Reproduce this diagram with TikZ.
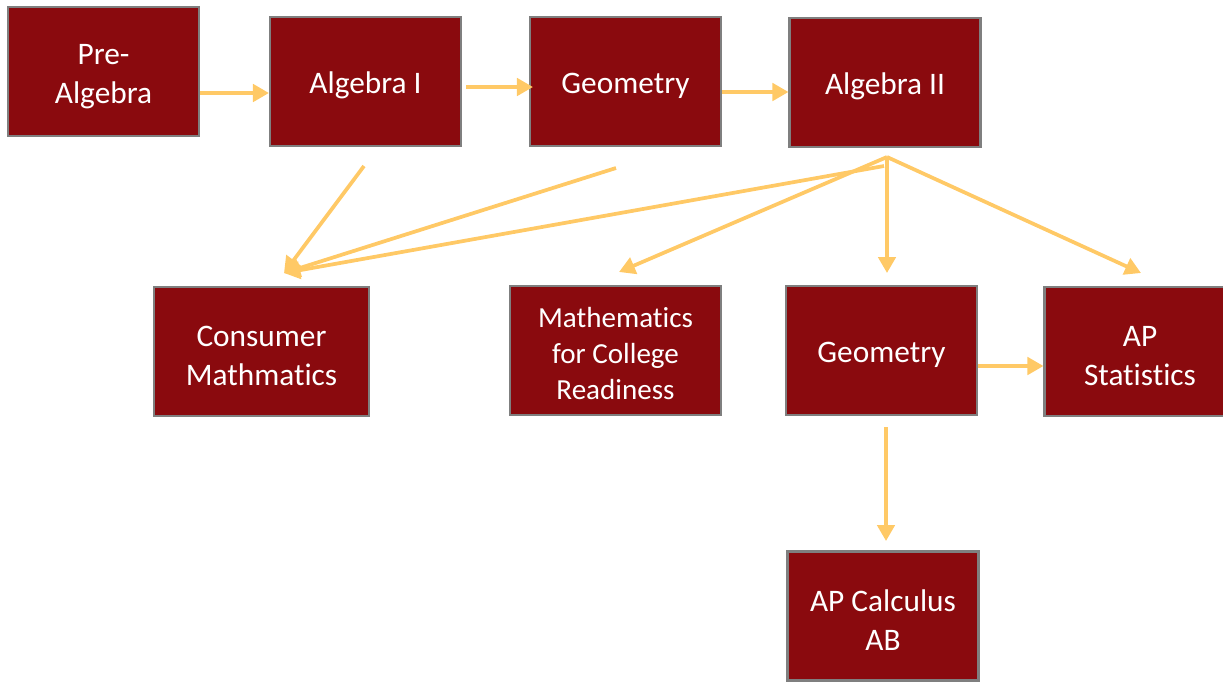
\documentclass[tikz,border=0pt]{standalone}
\usepackage{fontspec}
\setmainfont{Carlito}[Ligatures=NoCommon]
\usetikzlibrary{arrows.meta}
\definecolor{boxred}{HTML}{8A0A0E}
\definecolor{boxline}{HTML}{7F7F7F}
\definecolor{arr}{HTML}{FFC966}
\newcommand{\tpA}{\rule{0pt}{22.5pt}}
\newcommand{\tpB}{\rule{0pt}{19.5pt}}
\tikzset{
  box/.style={draw=boxline, line width=1.8pt, fill=boxred, text=white, align=center,
    inner sep=0pt, minimum width=143pt, minimum height=97pt,
    font=\fontsize{23.5pt}{29.3pt}\selectfont},
  conn/.style={draw=arr, line width=2.8pt, -{Triangle[length=12pt,width=13pt]}}
}
\begin{document}
\begin{tikzpicture}[x=0.75pt,y=-0.75pt]
\useasboundingbox (0,0) rectangle (1223,683);
% boxes
\node[box] (pre) at (103.5,71.5) {\tpA Pre-\\Algebra};
\node[box] (alg1) at (365.5,81.5) {\tpA Algebra I};
\node[box] (geo) at (625.5,81.5) {\tpA Geometry};
\node[box] (alg2) at (885,82.5) {\tpA Algebra II};
\node[box, minimum width=161pt] (cons) at (261.5,351.5) {\tpA Consumer\\Mathmatics};
\node[box, minimum width=158pt, font=\fontsize{21.8pt}{27pt}\selectfont] (mcr) at (615.5,350.5) {\tpB Mathematics\\for College\\Readiness};
\node[box] (geo2) at (881.5,350.5) {\tpA Geometry};
\node[box] (aps) at (1140,351.5) {\tpA AP\\Statistics};
\node[box] (apc) at (883,616) {\tpA AP Calculus\\AB};
% free ends
\coordinate (a1s) at (364,166);
\coordinate (gs) at (616,168);
\coordinate (a2s) at (884,166);
\coordinate (apex) at (887,157);
\coordinate (ct) at (284,273);
\coordinate (mt) at (619,272);
\coordinate (g2t) at (887,273);
\coordinate (st) at (1141,273);
\coordinate (g2b) at (886,427);
\coordinate (apct) at (886,541);
% top row
\draw[conn] (pre.east |- 0,93) -- (alg1.west |- 0,93);
\draw[conn] ([xshift=3pt]alg1.east |- 0,87) -- ([xshift=3pt]geo.west |- 0,87);
\draw[conn] (geo.east |- 0,92) -- (alg2.west |- 0,92);
% to consumer
\draw[conn] (a1s) -- (ct);
\draw[conn] (gs) -- (ct);
\draw[conn] (a2s) -- (ct);
% from algebra II apex
\draw[conn] (apex) -- (mt);
\draw[conn] (apex) -- (g2t);
\draw[conn] (apex) -- (st);
% geometry 2
\draw[conn] (geo2.east |- 0,366) -- (aps.west |- 0,366);
\draw[conn] (g2b) -- (apct);
\end{tikzpicture}
\end{document}
